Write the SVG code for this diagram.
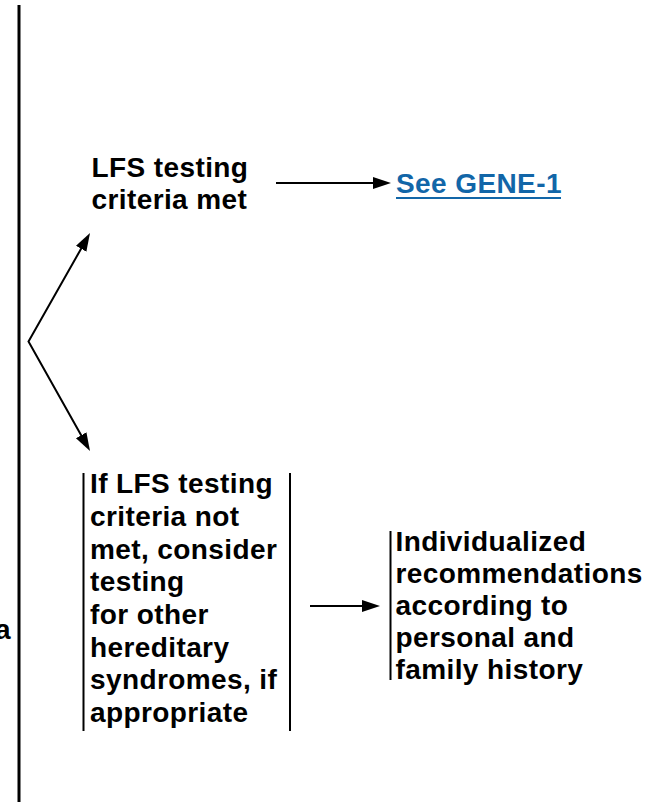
<svg xmlns="http://www.w3.org/2000/svg" width="662" height="802" viewBox="0 0 662 802">
<style>
.t{font-family:"Liberation Sans",Arial,Helvetica,sans-serif;font-weight:bold;font-size:28px;letter-spacing:0.4px;fill:#000}
.link{fill:#1266a8}
.bar{stroke:#000;stroke-width:2;fill:none}
.conn{stroke:#000;stroke-width:2;fill:none;stroke-linejoin:miter}
</style>
<defs>
<marker id="ah" markerUnits="userSpaceOnUse" markerWidth="20" markerHeight="14" refX="10" refY="6" orient="auto-start-reverse">
<path d="M0,0 L18,6 L0,12 z" fill="#000"/>
</marker>
</defs>
<rect width="662" height="802" fill="#fff"/>
<g id="left-rule">
<line x1="19" y1="5" x2="19" y2="802" stroke="#000" stroke-width="3"/>
<text class="t" x="11" y="639" text-anchor="end">a</text>
</g>
<g id="lfs-met">
<text class="t" x="91.5" y="177">LFS testing</text>
<text class="t" x="91.5" y="208.5">criteria met</text>
</g>
<g id="see-gene">
<text class="t link" x="396" y="193">See GENE-1</text>
<line x1="396" y1="198" x2="561" y2="198" stroke="#1266a8" stroke-width="2"/>
</g>
<g id="lfs-not-met">
<line class="bar" x1="83.5" y1="473" x2="83.5" y2="731"/>
<line class="bar" x1="290" y1="473" x2="290" y2="731"/>
<text class="t" x="90" y="493">If LFS testing</text>
<text class="t" x="90" y="526">criteria not</text>
<text class="t" x="90" y="559">met, consider</text>
<text class="t" x="90" y="591">testing</text>
<text class="t" x="90" y="624">for other</text>
<text class="t" x="90" y="657">hereditary</text>
<text class="t" x="90" y="689">syndromes, if</text>
<text class="t" x="90" y="722">appropriate</text>
</g>
<g id="individualized">
<line class="bar" x1="390.5" y1="531" x2="390.5" y2="680"/>
<text class="t" x="395.5" y="551">Individualized</text>
<text class="t" x="395.5" y="583">recommendations</text>
<text class="t" x="395.5" y="615">according to</text>
<text class="t" x="395.5" y="647">personal and</text>
<text class="t" x="395.5" y="679">family history</text>
</g>
<g id="connectors">
<path class="conn" d="M86.05,240 L28.5,341.5 L86.08,444" marker-start="url(#ah)" marker-end="url(#ah)"/>
<line class="conn" x1="276" y1="183" x2="383" y2="183" marker-end="url(#ah)"/>
<line class="conn" x1="310" y1="606" x2="372" y2="606" marker-end="url(#ah)"/>
</g>
</svg>
